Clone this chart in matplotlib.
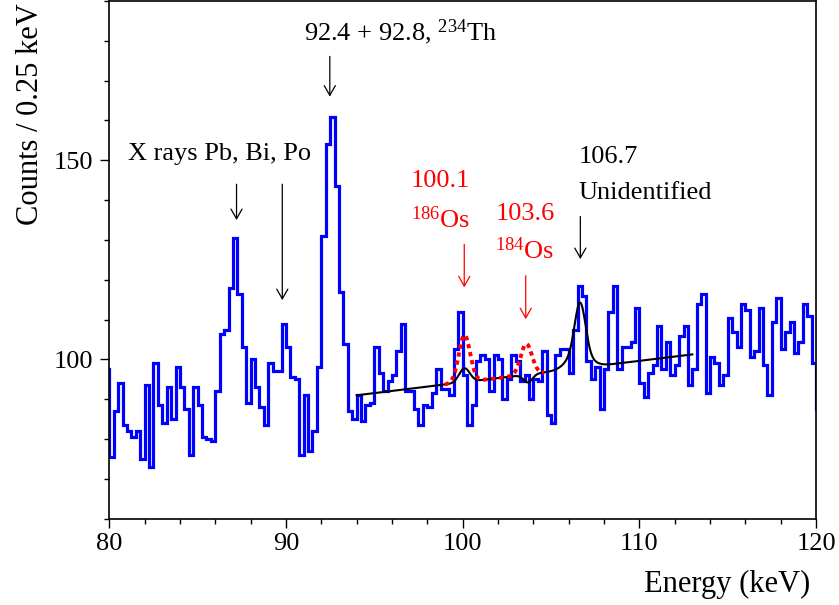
import numpy as np
import matplotlib
matplotlib.use("Agg")
import matplotlib.pyplot as plt
from matplotlib.ticker import MultipleLocator

plt.rcParams['font.family'] = ['Liberation Serif', 'DejaVu Serif']
plt.rcParams['mathtext.fontset'] = 'custom'
plt.rcParams['mathtext.rm'] = 'Liberation Serif'
plt.rcParams['mathtext.it'] = 'Liberation Serif:italic'

# histogram, 0.25 keV bins; first value is the bin 79.75-80 (clipped at the axis),
# last value is the bin 120-120.25 (also clipped)
bin_width = 0.25
first_edge = 79.75
counts = [97.5,
          75.5, 87, 94, 83.5,        # 80
          82, 80.5, 82, 75,          # 81
          93.5, 73, 99, 88.5,        # 82
          84, 93, 85, 98,            # 83
          93, 87.5, 76, 93,          # 84
          88.5, 80.5, 80, 79.5,      # 85
          92, 106.5, 107.5, 118,     # 86
          130.5, 116.5, 103, 89,     # 87
          100, 93, 88, 83.5,         # 88
          99, 97, 97, 109,           # 89
          103, 95.5, 95, 76,         # 90
          91, 77, 82, 98,            # 91
          131, 154, 161, 143.5,      # 92
          117, 104, 87, 85,          # 93
          91, 84.5, 88.5, 89,        # 94
          103, 96.5, 92, 94.5,       # 95
          96, 102, 109, 92,          # 96
          92, 87.5, 83.5, 88.5,      # 97
          88, 91.5, 97.5, 92.5,      # 98
          92.5, 91, 102.5, 112,      # 99
          96, 83.5, 88.5, 99.5,      # 100
          101, 100, 92, 101,         # 101
          100, 90, 95, 101,          # 102
          99.5, 94.5, 96, 90,        # 103
          95, 94.5, 102, 86,         # 104
          84, 101, 102.5, 102.5,     # 105
          96.5, 107.5, 118.5, 116,   # 106
          99.5, 95, 98, 87.5,        # 107
          97.5, 112, 118.5, 97.5,    # 108
          103, 103, 104.5, 113,      # 109
          94, 90.5, 96.5, 98.5,      # 110
          108.5, 97.5, 104.5, 96,    # 111
          98.5, 106, 108.5, 93.5,    # 112
          97.5, 114, 116.5, 91.5,    # 113
          100.5, 99, 93.5, 96,       # 114
          110.5, 107, 103, 114,      # 115
          112.5, 100.5, 102, 113,    # 116
          98.5, 91, 109.5, 115.5,    # 117
          102.5, 107, 109.5, 101.5,  # 118
          104.5, 114, 111, 99,       # 119
          87.5]

# fit: linear background + gaussians (centre, amplitude, sigma)
bg_ref_e = 94.0
bg_ref_counts = 91.0
bg_slope = 0.54
fit_range = (94.0, 113.0)
fit_peaks = [(100.1, 3.5, 0.3), (103.7, -2.0, 0.25),
             (106.65, 12.5, 0.3), (106.55, 4.0, 0.6)]
# expected Os lines (red dotted)
os_range = (99.0, 104.6)
os_peaks = [(100.1, 11.8, 0.32), (103.6, 7.7, 0.32)]

# labels: text, x, y (baseline), colour
labels = [("92.4 + 92.8, $^{234}$Th", 91.0, 180.1, "black"),
          ("X rays Pb, Bi, Po", 81.05, 150.1, "black"),
          ("100.1", 97.07, 143.2, "red"),
          ("$^{186}$Os", 97.07, 133.1, "red"),
          ("103.6", 101.85, 135.0, "red"),
          ("$^{184}$Os", 101.85, 125.2, "red"),
          ("106.7", 106.55, 149.3, "black"),
          ("Unidentified", 106.55, 140.3, "black")]
# arrows: x, y from, y to, colour
arrows = [(92.48, 176.1, 166.0, "black"),
          (87.2, 144.0, 135.0, "black"),
          (89.79, 144.0, 114.9, "black"),
          (100.09, 128.9, 118.1, "red"),
          (103.57, 121.0, 110.1, "red"),
          (106.66, 135.9, 125.2, "black")]


def model(e, peaks):
    y = bg_ref_counts + bg_slope * (e - bg_ref_e)
    for c, a, s in peaks:
        y = y + a * np.exp(-0.5 * ((e - c) / s) ** 2)
    return y


fig = plt.figure(figsize=(8.39, 6.05), dpi=100)
ax = fig.add_axes([0.1303, 0.1426, 0.8423, 0.8557])

edges = first_edge + bin_width * np.arange(len(counts) + 1)
ax.stairs(counts, edges, baseline=None, color="blue", lw=2.3)

e_fit = np.linspace(fit_range[0], fit_range[1], 800)
ax.plot(e_fit, model(e_fit, fit_peaks), color="black", lw=1.5)

e_os = np.linspace(os_range[0], os_range[1], 400)
ax.plot(e_os, model(e_os, os_peaks), color="red", lw=2.8, ls=(0, (1.1, 1.0)))

for txt, x, y, col in labels:
    ax.text(x, y, txt, color=col, fontsize=19, va="baseline", ha="left")
for x, y0, y1, col in arrows:
    ax.annotate("", xy=(x, y1), xytext=(x, y0),
                arrowprops=dict(arrowstyle="->,head_length=0.7,head_width=0.4",
                                color=col, lw=0.9, mutation_scale=10,
                                shrinkA=0, shrinkB=0))

ax.set_xlim(80, 120)
ax.set_ylim(60, 190)
ax.xaxis.set_major_locator(MultipleLocator(10))
ax.xaxis.set_minor_locator(MultipleLocator(2))
ax.yaxis.set_major_locator(MultipleLocator(50))
ax.yaxis.set_minor_locator(MultipleLocator(10))
ax.tick_params(which="both", direction="out", labelsize=19, width=1.0)
ax.tick_params(which="major", length=6.5, pad=4)
ax.tick_params(which="minor", length=3.4)
ax.tick_params(axis="y", which="major", length=6.8, pad=5)
for sp in ax.spines.values():
    sp.set_linewidth(1.2)

fig.text(0.0358, 0.995, "Counts / 0.25 keV", rotation=90, ha="center", va="top", fontsize=22)
fig.text(0.9654, 0.0215, "Energy (keV)", ha="right", va="baseline", fontsize=22)

fig.savefig("out.png", dpi=100)
